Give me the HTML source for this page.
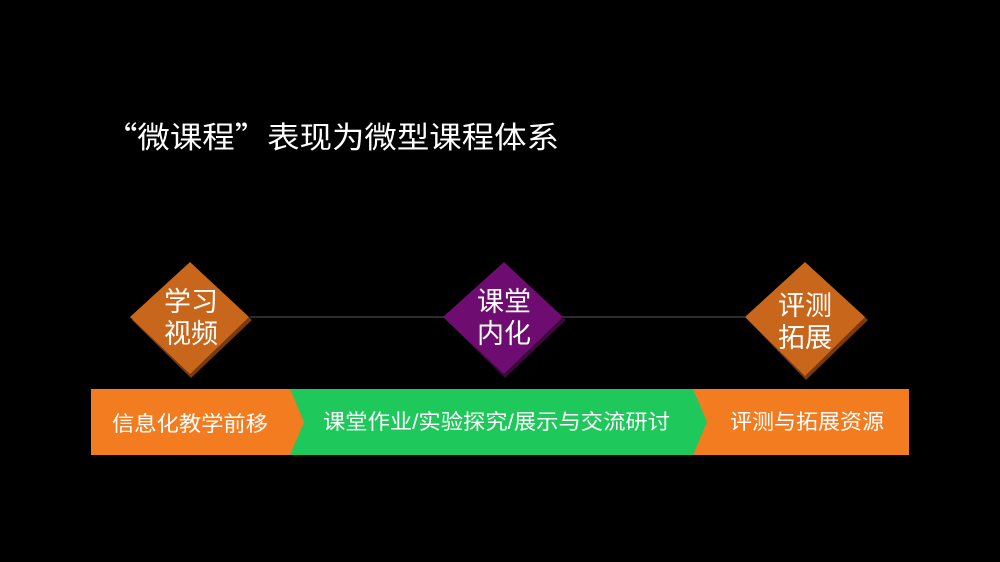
<!DOCTYPE html>
<html><head><meta charset="utf-8"><style>
body{margin:0;background:#000;width:1000px;height:562px;overflow:hidden;font-family:"Liberation Sans","Noto Sans CJK SC",sans-serif;}
svg{position:absolute;left:0;top:0}
</style></head><body>
<svg width="1000" height="562" viewBox="0 0 1000 562">
<rect width="1000" height="562" fill="#000"/>
<text x="105" y="148" fill="#fff" font-size="30" textLength="454" lengthAdjust="spacingAndGlyphs" font-family="Noto Sans CJK SC, sans-serif">“微课程”表现为微型课程体系</text>
<line x1="250" y1="317" x2="745" y2="317" stroke="#3a3a3a" stroke-width="1.5"/>
<polygon points="191,264 252,320 191,378 132,320" fill="#7a3a10"/>
<polygon points="190,262 249,317 190,374 130,317" fill="#c8661c"/>
<polygon points="505,264 566,320 505,378 446,320" fill="#3a0a3a"/>
<polygon points="504,262 563,317 504,374 443,317" fill="#6e0c72"/>
<polygon points="806,264 868,320 806,380 748,320" fill="#7a3a10"/>
<polygon points="805,262 865,317 805,376 745,317" fill="#c8661c"/>
<g fill="#fff" font-size="27" text-anchor="middle" font-family="Liberation Sans, Noto Sans CJK SC, sans-serif">
<text x="191" y="311">学习</text><text x="191" y="343">视频</text>
<text x="504" y="311">课堂</text><text x="504" y="343">内化</text>
<text x="805" y="315">评测</text><text x="805" y="347">拓展</text>
</g>
<rect x="693" y="389" width="216" height="66" fill="#f47c20"/>
<polygon points="290,389 693,389 707,422 693,455 290,455" fill="#1ec85a"/>
<polygon points="91,389 290,389 304,422 290,455 91,455" fill="#f47c20"/>
<g fill="#fff" font-size="21" font-family="Liberation Sans, Noto Sans CJK SC, sans-serif">
<text x="112" y="431" textLength="156" lengthAdjust="spacingAndGlyphs">信息化教学前移</text>
<text x="323" y="429" textLength="347" lengthAdjust="spacingAndGlyphs">课堂作业/实验探究/展示与交流研讨</text>
<text x="730" y="429" textLength="154" lengthAdjust="spacingAndGlyphs">评测与拓展资源</text>
</g>
</svg>
</body></html>
